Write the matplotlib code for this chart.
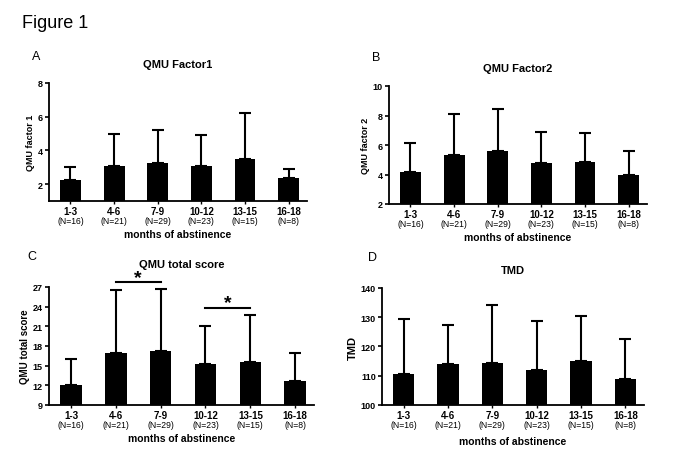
import matplotlib
matplotlib.use("Agg")
import matplotlib.pyplot as plt
import numpy as np

plt.rcParams['font.family'] = ['Liberation Sans', 'DejaVu Sans']

categories = ["1-3", "4-6", "7-9", "10-12", "13-15", "16-18"]
n_labels = ["(N=16)", "(N=21)", "(N=29)", "(N=23)", "(N=15)", "(N=8)"]

f1_mean = [2.24, 3.07, 3.25, 3.05, 3.49, 2.36]
f1_upper = [2.99, 5.0, 5.2, 4.92, 6.21, 2.89]

f2_mean = [4.18, 5.32, 5.61, 4.75, 4.82, 3.98]
f2_upper = [6.14, 8.07, 8.45, 6.89, 6.82, 5.59]

tot_mean = [12.11, 16.9, 17.27, 15.22, 15.58, 12.67]
tot_upper = [16.04, 26.6, 26.65, 21.04, 22.67, 16.9]

tmd_mean = [110.7, 114.0, 114.4, 112.0, 115.1, 108.9]
tmd_upper = [129.4, 127.5, 134.2, 128.75, 130.3, 122.4]

W, H = 685, 456
fig = plt.figure(figsize=(6.85, 4.56), dpi=100)


def ax_at(x, ytop, w, h):
    return fig.add_axes([x / W, 1 - (ytop + h) / H, w / W, h / H])


def panel(ax, means, uppers, ylim, yticks, ylabel, title, title_y, xlabel,
          xlabelpad=10, ylabelsize=6.5):
    x = np.arange(len(categories))
    means = np.array(means)
    uppers = np.array(uppers)
    base = ylim[0]
    ax.bar(x, means - base, bottom=base, width=0.48, color='black', zorder=2)
    ax.errorbar(x, means, yerr=[np.zeros_like(means), uppers - means],
                fmt='none', ecolor='black', elinewidth=1.5, capsize=4.3,
                capthick=1.5, zorder=3)
    ax.set_ylim(*ylim)
    ax.set_xlim(-0.49, 5.42)
    ax.set_yticks(yticks)
    ax.set_yticklabels([str(t) for t in yticks], fontsize=6.5, fontweight='bold')
    ax.set_xticks(x)
    ax.set_xticklabels(categories, fontsize=7, fontweight='bold')
    for i, n in enumerate(n_labels):
        ax.text(i, -0.125, n, transform=ax.get_xaxis_transform(),
                ha='center', va='top', fontsize=6.2)
    for s in ['top', 'right']:
        ax.spines[s].set_visible(False)
    for s in ['left', 'bottom']:
        ax.spines[s].set_linewidth(1.3)
    ax.tick_params(axis='x', length=2.5, width=1.0, pad=0.8)
    ax.tick_params(axis='y', length=3, width=1.2, pad=1.5)
    ax.set_ylabel(ylabel, fontsize=ylabelsize, fontweight='bold', labelpad=2)
    bb = ax.get_position()
    fig.text((bb.x0 + bb.x1) / 2, 1 - title_y / H, title, fontsize=8,
             fontweight='bold', ha='center', va='center')
    if xlabel:
        ax.set_xlabel(xlabel, fontsize=7.5, fontweight='bold', labelpad=xlabelpad)


axA = ax_at(49, 84, 258, 118)
panel(axA, f1_mean, f1_upper, (1, 8), [2, 4, 6, 8], "QMU factor 1", "QMU Factor1", 65.5,
      "months of abstinence")
axB = ax_at(389, 87, 258, 118)
panel(axB, f2_mean, f2_upper, (2, 10), [2, 4, 6, 8, 10], "QMU factor 2", "QMU Factor2", 69,
      "months of abstinence")
axC = ax_at(49, 288, 265, 118)
panel(axC, tot_mean, tot_upper, (9, 27), [9, 12, 15, 18, 21, 24, 27], "QMU total score",
      "QMU total score", 265, "months of abstinence", ylabelsize=7)
axD = ax_at(382, 289, 262, 117)
panel(axD, tmd_mean, tmd_upper, (100, 140), [100, 110, 120, 130, 140], "TMD", "TMD", 271,
      "months of abstinence", xlabelpad=11.5, ylabelsize=8)

# significance markers
axC.plot([1, 2], [27.77, 27.77], color='black', lw=1.5, clip_on=False)
axC.annotate("*", xy=(1.5, 27.77), xytext=(0, -3), textcoords='offset points',
             ha='center', va='bottom', fontsize=14, fontweight='bold', annotation_clip=False)
axC.plot([3, 4], [23.8, 23.8], color='black', lw=1.5, clip_on=False)
axC.annotate("*", xy=(3.5, 23.8), xytext=(0, -2.5), textcoords='offset points',
             ha='center', va='bottom', fontsize=14, fontweight='bold')

fig.text(22 / W, 1 - 24 / H, "Figure 1", fontsize=13, va='center', ha='left')
fig.text(32 / W, 1 - 57 / H, "A", fontsize=9, va='center', ha='left')
fig.text(372 / W, 1 - 58 / H, "B", fontsize=9, va='center', ha='left')
fig.text(27 / W, 1 - 257 / H, "C", fontsize=9, va='center', ha='left')
fig.text(368 / W, 1 - 258 / H, "D", fontsize=9, va='center', ha='left')

fig.savefig("out.png", dpi=100)
